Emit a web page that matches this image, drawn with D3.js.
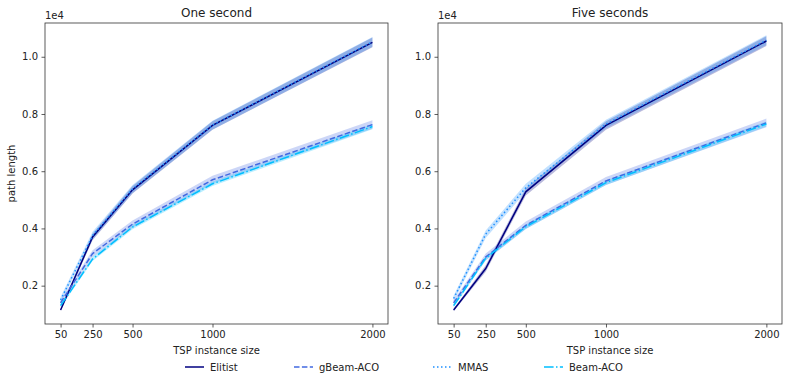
<!DOCTYPE html>
<html>
<head>
<meta charset="utf-8">
<script src="https://cdn.jsdelivr.net/npm/d3@7"></script>
<style>
  body { margin: 0; background: #fff; }
  text { font-family: "DejaVu Sans", sans-serif; fill: #222; }
</style>
</head>
<body>
<svg id="chart" width="789" height="385"></svg>
<script>
// TSP instance sizes on the x axis
var sizes = [50, 250, 500, 1000, 2000];
var xTicks = [50, 250, 500, 1000, 2000];
var yTicks = [2000, 4000, 6000, 8000, 10000];
var seriesNames = ["Elitist", "gBeam-ACO", "MMAS", "Beam-ACO"];

// one second runs
var elitist1 = [1150, 3700, 5350, 7600, 10500];
var gbeam1 = [1400, 3120, 4150, 5700, 7630];
var mmas1 = [1500, 3750, 5380, 7610, 10520];
var beam1 = [1300, 2930, 4050, 5560, 7560];
// five seconds runs
var elitist5 = [1150, 2600, 5280, 7600, 10550];
var gbeam5 = [1400, 3000, 4110, 5660, 7690];
var mmas5 = [1550, 3800, 5420, 7650, 10580];
var beam5 = [1300, 2960, 4060, 5600, 7650];

// half width of the shaded bands
var elitistCI = [40, 110, 130, 150, 170];
var gbeamCI = [90, 120, 130, 140, 150];
var mmasCI = [100, 130, 140, 150, 170];
var beamCI = [60, 70, 80, 80, 90];

var colors = ["#000080", "#4169e1", "#1e90ff", "#00bfff"];
var dashes = [null, "5.5,2.4", "1.5,2.5", "9.6,2.4,1.5,2.4"];

var panels = [
  {title: "One second", left: 45, right: 388, data: [elitist1, gbeam1, mmas1, beam1], ylabel: true},
  {title: "Five seconds", left: 438, right: 782, data: [elitist5, gbeam5, mmas5, beam5], ylabel: false}
];
var cis = [elitistCI, gbeamCI, mmasCI, beamCI];
var plotTop = 23, plotBottom = 324;

var svg = d3.select("#chart");

panels.forEach(function(p) {
  var x = d3.scaleLinear().domain([-47.5, 2097.5]).range([p.left, p.right]);
  var y = d3.scaleLinear().domain([660, 11180]).range([plotBottom, plotTop]);
  var g = svg.append("g");

  // bands first
  p.data.forEach(function(vals, i) {
    var pts = sizes.map(function(s, j) { return {x: s, lo: vals[j] - cis[i][j], hi: vals[j] + cis[i][j]}; });
    var area = d3.area().x(function(d) { return x(d.x); }).y0(function(d) { return y(d.lo); }).y1(function(d) { return y(d.hi); });
    g.append("path").attr("d", area(pts)).attr("fill", colors[i]).attr("fill-opacity", 0.27);
  });

  p.data.forEach(function(vals, i) {
    var line = d3.line().x(function(d, j) { return x(sizes[j]); }).y(function(d) { return y(d); });
    g.append("path").attr("d", line(vals))
      .attr("fill", "none")
      .attr("stroke", colors[i])
      .attr("stroke-width", 1.5)
      .attr("stroke-dasharray", dashes[i]);
  });

  var xAxis = d3.axisBottom(x).tickValues(xTicks).tickSize(3.5).tickPadding(3.5).tickFormat(d3.format("d"));
  var yAxis = d3.axisLeft(y).tickValues(yTicks).tickSize(3.5).tickPadding(3.5)
    .tickFormat(function(d) { return (d / 10000).toFixed(1); });

  var xg = g.append("g").attr("transform", "translate(0," + plotBottom + ")").call(xAxis);
  var yg = g.append("g").attr("transform", "translate(" + p.left + ",0)").call(yAxis);
  [xg, yg].forEach(function(a) {
    a.select(".domain").remove();
    a.selectAll("line").attr("stroke", "#333").attr("stroke-width", 0.8);
    a.selectAll("text").style("font-size", "10px").style("font-family", "DejaVu Sans").attr("fill", "#222");
  });

  g.append("rect").attr("x", p.left).attr("y", plotTop)
    .attr("width", p.right - p.left).attr("height", plotBottom - plotTop)
    .attr("fill", "none").attr("stroke", "#333").attr("stroke-width", 0.8);

  g.append("text").attr("x", (p.left + p.right) / 2).attr("y", 17)
    .attr("text-anchor", "middle").style("font-size", "12px").text(p.title);
  g.append("text").attr("x", p.left).attr("y", 19)
    .style("font-size", "10px").text("1e4");
  g.append("text").attr("x", (p.left + p.right) / 2).attr("y", 354)
    .attr("text-anchor", "middle").style("font-size", "10px").text("TSP instance size");
  if (p.ylabel) {
    g.append("text").attr("transform", "translate(15," + ((plotTop + plotBottom) / 2) + ") rotate(-90)")
      .attr("text-anchor", "middle").style("font-size", "10px").text("path length");
  }
});

// legend along the bottom
var legendX = [185, 294, 433, 544];
seriesNames.forEach(function(name, i) {
  var lg = svg.append("g").attr("transform", "translate(" + legendX[i] + ",367)");
  lg.append("line").attr("x1", 0).attr("x2", 19).attr("y1", 0).attr("y2", 0)
    .attr("stroke", colors[i]).attr("stroke-width", 1.5).attr("stroke-dasharray", dashes[i]);
  lg.append("text").attr("x", 25).attr("y", 3.5).style("font-size", "10px").text(name);
});
</script>
</body>
</html>
